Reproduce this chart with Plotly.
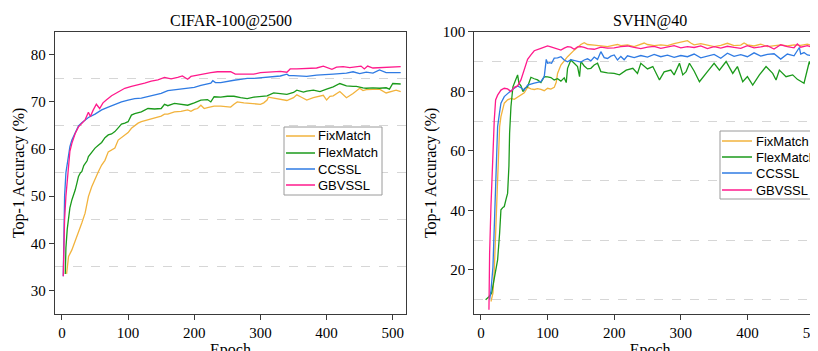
import plotly.graph_objects as go

# ---------------- data: CIFAR-100@2500 ----------------
c_fix_x = [7,8,10,15,20,25,30,35,40,45,50,55,60,65,70,75,80,85,90,95,100,105,110,115,120,125,130,140,150,155,160,170,180,190,195,200,205,210,215,220,230,240,250,255,260,265,275,290,300,305,310,312,320,330,340,350,355,362,370,380,390,395,400,405,410,420,430,440,450,455,460,470,480,490,500,505,512]
c_fix_y = [33.5,35,37.2,38.6,40.4,42.1,44.3,46.4,49.9,52,53.8,55.2,56.6,57.6,59.4,59.8,60.2,61.9,62.5,63,63.5,64.4,65,65.5,65.8,66,66.3,66.7,67,67.4,67.4,67.9,68,68.3,68,68.4,68.6,69.3,68.6,68.8,69.1,69.1,69.0,68.9,69.5,70,69.8,69.6,69.5,69.8,70.4,71.0,70.8,70.4,70.3,70.9,71.5,71,70.4,70.9,71.2,71.4,70.4,71.2,71.3,72.2,70.9,71.8,72.9,72.4,72.6,72.7,72.7,71.9,72.2,72.5,72.2]

c_flex_x = [5,6,8,10,12,15,18,20,23,25,28,30,33,35,38,40,45,50,55,60,65,70,75,80,85,90,95,100,105,110,120,130,140,150,155,160,170,180,190,200,210,220,225,230,240,250,260,270,280,290,300,310,320,330,340,350,355,365,370,380,390,400,410,420,430,440,445,455,460,470,480,490,495,500,512]
c_flex_y = [33.5,39,43,45.7,47.5,49.2,50.3,51.3,53,54.2,55,55.2,56.5,57,57.5,58.4,59.3,60.2,60.8,61.4,62.4,63,63.2,63.7,64.5,65.3,65.5,65.8,67.2,67.5,67.9,68.6,68.5,68.6,69.5,69.2,69.7,69.5,69.3,69.8,70.4,70.5,70.0,71.1,71.0,71.2,71.2,70.9,70.7,71.0,71.1,71.3,71.9,71.8,71.6,72.0,72.5,72.1,72.3,72.5,72.2,72.7,73.2,73.9,73.4,73.3,73.3,73.0,72.9,73.0,72.9,73.0,72.7,73.9,73.8]

c_cc_x = [2,4,6,8,10,12,15,20,25,30,35,40,50,60,70,80,90,100,110,120,135,150,160,175,190,200,210,220,225,228,232,240,250,260,270,280,290,300,315,330,340,343,350,360,370,385,400,410,420,430,440,450,460,470,480,485,490,500,512]
c_cc_y = [33,50,55,57,58.5,60.5,61.9,63.3,64.9,65.6,66.2,66.7,67.4,68.3,68.9,69.5,70,70.4,70.7,70.8,71.3,71.8,72.4,72.7,72.9,73.1,73.5,73.9,74,74.5,74.1,74.1,74.4,74.6,74.8,75,75,75.1,75.2,75.5,75.9,75.6,75.6,75.5,75.4,75.7,75.9,75.9,76,76.1,76.4,76,76.3,76.1,76.8,76.5,76.2,76.2,76.2]

c_gb_x = [2,4,6,8,10,12,15,18,20,25,30,35,40,43,47,52,57,62,67,75,85,95,105,115,125,135,145,155,165,175,182,190,195,205,215,225,235,245,255,262,270,280,290,300,310,320,330,340,343,345,355,365,375,385,395,402,408,415,425,435,445,452,457,462,470,480,490,500,512]
c_gb_y = [33,45,50,53.4,57.7,59.5,61.2,62.5,63.3,64.7,65.5,66.2,67.8,66.9,68.2,69.5,68.6,69.8,70.4,71.3,72.1,72.9,73.3,73.6,74,74.4,74.7,75.2,74.9,75.2,75.5,74.8,75.4,75.7,76,76.2,76.4,76.4,76.4,75.9,75.9,76,75.9,76.2,76.3,76.5,76.5,76.3,76.7,77,77,77.1,77.1,77.2,77.6,77.2,76.9,77.4,77.5,77.3,77.4,77.6,77,77.6,77.2,77.3,77.3,77.4,77.5]

# ---------------- data: SVHN@40 ----------------
s_fix_x = [15,18,20,22,25,28,30,35,40,45,50,55,60,65,70,75,80,85,90,95,100,105,110,113,115,120,125,130,140,150,155,160,170,180,190,200,205,210,220,230,240,245,250,260,270,280,290,300,305,310,315,320,330,340,350,360,370,380,390,395,400,410,420,430,440,450,460,470,480,490,500,512]
s_fix_y = [9.4,12.2,20,32.3,49.1,68.1,71.5,76,77.1,77.6,77.3,78,78.7,79.5,81.3,80.8,80.6,80.9,80.6,80.2,81,80.7,81.3,83,86,88.8,90.2,91.6,93.8,95.7,96.3,95.7,95.5,95.2,95.0,95.5,95.7,95.3,95.6,95.0,95.9,96.2,95.7,95.3,95.6,95.3,96.0,96.4,96.7,97,96.2,95.6,96,95.4,95.0,95.4,96.1,95.3,95.5,96.2,95.6,95.2,95.8,95.0,95.4,95.6,95.2,95.6,95.4,95.8,95.3,95.5]

s_flex_x = [7,12,16,20,23,25,28,30,33,35,38,40,42,43,45,48,52,55,57,60,63,66,70,75,80,85,90,95,100,105,110,115,120,125,128,130,135,140,145,148,150,155,160,165,170,175,180,190,200,208,218,228,235,240,250,258,268,275,285,290,298,303,308,313,320,328,335,340,350,358,368,378,385,393,400,408,418,428,438,443,448,458,468,475,485,493,500,505,512]
s_flex_y = [10,11,12.2,16.7,20,23.4,32.3,40.2,41,41.3,44,45.7,55,65.9,74.8,81.5,83.8,85.5,82.7,81.8,79.9,81,81.5,84.7,84.2,83.8,82.9,84.9,84.8,84.6,83.8,84.2,83.4,84.5,82.9,87.7,90.5,89.3,88.3,84.9,90.0,88.5,87.5,87.7,88.8,89.4,86.6,86.2,86.0,85.5,87.1,87.7,86,89.4,87.5,88.3,83.8,86.5,87.1,85.5,89.4,85.5,86.6,89.4,86.8,83.2,85.0,86.6,89.4,87.1,90,86,88.3,83.2,84.9,82.1,85.5,88.3,86,83.8,87.1,84.9,85.5,84.0,82.7,90,86,87.7,84.5]

s_cc_x = [13,15,18,20,22,25,28,30,35,40,45,50,55,60,65,70,75,80,85,90,95,97,98,100,103,106,110,115,120,125,130,135,140,145,150,155,160,165,170,175,180,185,190,195,200,205,210,215,220,230,240,250,260,270,280,290,300,310,320,330,340,350,360,370,380,390,400,410,420,430,440,450,460,470,478,480,485,490,500,512]
s_cc_y = [10,13,21,35,54.7,68.1,73,76,78.2,79.3,80.2,81,81.8,81.2,80.4,82.1,82.3,82.7,83.0,83.2,84.9,88,90.7,89.4,89.6,89.4,91.1,91.2,91.6,90.5,89.9,90.6,90.4,90.0,89.8,90.5,90.9,90.2,91.5,90.7,93.3,91.3,91.0,91.8,92.2,90.5,91.7,90.6,91.9,91.3,92.0,91.5,92.4,91.6,92.1,91.4,92.0,91.6,92.5,91.2,91.8,92.4,91.1,92.8,91.7,92.3,91.6,92.9,91.8,92.4,92.6,90.8,92.5,91.9,94.7,92.5,93.0,92.2,91.8,91.8]

s_gb_x = [12,13,15,18,20,22,25,30,35,40,45,50,55,60,65,70,75,80,90,100,105,110,115,120,125,130,135,140,145,150,155,160,170,180,190,200,210,220,230,240,250,260,270,280,290,300,310,320,330,340,350,360,370,380,390,400,410,420,430,440,450,460,470,475,480,490,500,505,512]
s_gb_y = [6.6,25.6,41.3,60.3,70.4,77.1,78.7,80.4,81,80.8,79.9,81.3,81.8,83.8,87.1,90.7,92.2,93.6,94.4,95.2,94.9,94.6,94.2,93.8,94.5,95,94.8,94.1,94.9,95.0,94.7,94.3,94.1,94.8,94.5,94.6,95.0,95.2,94.7,94.3,94.8,95.1,94.4,94.9,95.3,94.6,95.0,94.7,95.2,94.3,95.0,94.5,95.1,94.7,94.4,95.3,94.6,94.9,95.3,94.2,95.6,95.0,94.6,95.9,94.8,95.3,94.6,95.2,94.8]

names = ["FixMatch", "FlexMatch", "CCSSL", "GBVSSL"]
colors = ["#F2B33D", "#1B9A1B", "#2F7BE3", "#FF1A8C"]

left = [(c_fix_x, c_fix_y), (c_flex_x, c_flex_y), (c_cc_x, c_cc_y), (c_gb_x, c_gb_y)]
right = [(s_fix_x, s_fix_y), (s_flex_x, s_flex_y), (s_cc_x, s_cc_y), (s_gb_x, s_gb_y)]

# The page body has an 8px margin; figure coordinates = window coordinates - 8.
OFF = 8
W, H = 818, 351

def px(x):  # window x -> paper fraction
    return (x - OFF) / W

def py(y):  # window y -> paper fraction
    return 1 - (y - OFF) / H

fig = go.Figure()
for (x, y), n, c in zip(left, names, colors):
    fig.add_trace(go.Scatter(x=x, y=y, mode="lines", name=n, line=dict(color=c, width=1.3),
                             xaxis="x", yaxis="y", showlegend=False))
for (x, y), n, c in zip(right, names, colors):
    fig.add_trace(go.Scatter(x=x, y=y, mode="lines", name=n, line=dict(color=c, width=1.3),
                             xaxis="x2", yaxis="y2", showlegend=False))

serif = "Liberation Serif, Times New Roman, serif"
sans = "Liberation Sans, Arial, sans-serif"
axcol = "#3a3a3a"

def xax(domain, rng, anchor):
    return dict(domain=domain, range=rng, anchor=anchor, showline=True, linecolor=axcol, linewidth=1.3,
                mirror=True, ticks="outside", ticklen=5, tickcolor=axcol, tickwidth=1.2,
                tickvals=[0, 100, 200, 300, 400, 500], showgrid=False, zeroline=False,
                tickfont=dict(family=serif, size=15, color="black"),
                title=dict(text="Epoch", font=dict(family=serif, size=16, color="black"), standoff=9))

def yax(domain, rng, anchor, tv, mv):
    return dict(domain=domain, range=rng, anchor=anchor, showline=True, linecolor=axcol, linewidth=1.3,
                mirror=True, ticks="outside", ticklen=5, tickcolor=axcol, tickwidth=1.2,
                tickvals=tv, showgrid=False, zeroline=False,
                minor=dict(tickvals=mv, showgrid=True, gridcolor="#d6d6d6", griddash="dash", gridwidth=1, ticks=""),
                tickfont=dict(family=serif, size=15, color="black"),
                title=dict(text="Top-1 Accuracy (%)", font=dict(family=serif, size=16, color="black"), standoff=2))

ydom = [py(314), py(31.7)]

# legend drawn as layout decoration (box, sample lines, labels)
shapes, annos = [], []
legends = [dict(box=(284, 127, 382, 195), line=(286, 315), text=316, rows=[136, 153, 169, 185]),
           dict(box=(720, 131, 840, 199), line=(722, 752), text=754, rows=[141, 157, 173, 190])]
for lg in legends:
    x0, y0, x1, y1 = lg["box"]
    shapes.append(dict(type="rect", xref="paper", yref="paper", x0=px(x0), x1=px(x1), y0=py(y1), y1=py(y0),
                       line=dict(color="#9a9a9a", width=1), fillcolor="white", layer="above"))
    for n, c, ry in zip(names, colors, lg["rows"]):
        shapes.append(dict(type="line", xref="paper", yref="paper", x0=px(lg["line"][0]), x1=px(lg["line"][1]),
                           y0=py(ry), y1=py(ry), line=dict(color=c, width=1.5), layer="above"))
        annos.append(dict(text=n, x=px(lg["text"]), y=py(ry), xref="paper", yref="paper", xanchor="left",
                          yanchor="middle", showarrow=False, font=dict(family=sans, size=13, color="black")))

annos += [
    dict(text="CIFAR-100@2500", x=px(230.5), y=py(21.5), xref="paper", yref="paper",
         xanchor="center", yanchor="middle", showarrow=False, font=dict(family=serif, size=16, color="black")),
    dict(text="SVHN@40", x=px(650), y=py(21.5), xref="paper", yref="paper",
         xanchor="center", yanchor="middle", showarrow=False, font=dict(family=serif, size=16, color="black")),
]

fig.update_layout(
    width=W, height=H, margin=dict(l=0, r=0, t=0, b=0, autoexpand=False),
    paper_bgcolor="white", plot_bgcolor="white", showlegend=False,
    xaxis=xax([px(55), px(406)], [-10.5, 520], "y"),
    yaxis=yax(ydom, [25, 84.9], "x", [30, 40, 50, 60, 70, 80], [35, 45, 55, 65, 75]),
    xaxis2=xax([px(474.3), 1.0], [-10, 518], "y2"),
    yaxis2=yax(ydom, [5.2, 100], "x2", [20, 40, 60, 80, 100], [10, 30, 50, 70, 90]),
    shapes=shapes,
    annotations=annos,
)

fig.write_html("out.html")
